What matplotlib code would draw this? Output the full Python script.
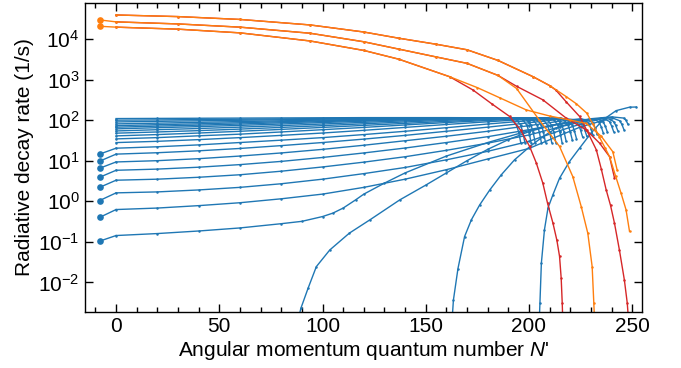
import matplotlib
matplotlib.use("Agg")
import matplotlib.pyplot as plt
from matplotlib.ticker import MultipleLocator, NullLocator, FixedLocator, LogFormatterMathtext

plt.rcParams['font.family'] = ['Liberation Sans', 'DejaVu Sans']
plt.rcParams['mathtext.fontset'] = 'custom'
plt.rcParams['mathtext.rm'] = 'Liberation Sans'
plt.rcParams['mathtext.it'] = 'Liberation Sans:italic'
plt.rcParams['mathtext.bf'] = 'Liberation Sans:bold'

BLUE = '#1f77b4'
ORANGE = '#ff7f0e'
RED = '#d62728'

G = [0, 20, 40, 60, 80, 100, 120, 140, 160, 180]

# ground-state vibrational ladders (rate in 1/s versus N')
blue_N = [
    G + [188, 192, 194, 195, 196],
    G + [190, 194, 196, 197, 198],
    G + [193, 197, 199, 200, 201],
    G + [195, 199, 201, 202, 203],
    G + [198, 202, 204, 205, 206],
    G + [200, 204, 206, 207, 208],
    G + [200, 203, 207, 209, 210, 211],
    G + [200, 205, 209, 211, 212, 213],
    G + [200, 208, 212, 214, 215, 216],
    G + [200, 210, 214, 216, 217, 218],
    G + [200, 213, 217, 219, 220, 221],
    G + [200, 215, 219, 221, 222, 223],
    G + [200, 215, 222, 224, 225, 226],
    G + [200, 215, 224, 226, 227, 228],
    G + [200, 215, 225, 227, 229, 230, 231],
    G + [200, 215, 225, 229, 231, 232, 233],
    G + [200, 215, 225, 232, 234, 235, 236],
    G + [200, 215, 225, 234, 236, 237, 238],
    G + [200, 215, 225, 235, 237, 239, 240, 241],
    [0, 20, 40, 60, 80, 90, 100, 105, 110, 116, 120, 130, 140, 160, 180,
     200, 215, 225, 235, 239, 241, 242, 243],
    [88.5, 89.5, 93, 97, 103.5, 113, 123, 137.4, 150, 160, 170, 180, 190,
     200, 210, 220, 230, 240, 244, 245, 246],
    [162.8, 163.4, 165.6, 168.8, 172.1, 176.1, 181, 186.6, 193, 200.3,
     206.7, 213.2, 219.6, 230, 240, 246, 247, 248],
    [205, 205.3, 206, 207.5, 209.2, 211.6, 214.8, 219.6, 224.5, 230.1,
     235.7, 242.2, 248.7, 252],
]
blue_rate = [
    [109, 110, 111, 112, 113, 114, 115, 115, 115, 114, 113, 101, 73, 51, 28],
    [99.5, 101, 103, 105, 107, 109, 111, 113, 114, 114, 114, 102, 74, 51, 28],
    [90, 93, 96, 99, 102, 105, 108, 111, 113, 114, 114, 102, 74, 51, 28],
    [80.6, 84, 88, 92, 96, 100, 104, 108, 111, 113, 114, 102, 74, 51, 28],
    [73, 77, 81, 86, 91, 96, 101, 106, 110, 113, 114, 102, 74, 51, 28],
    [66.8, 71, 75, 80, 86, 92, 98, 104, 109, 112, 114, 102, 74, 51, 28],
    [60.7, 65, 69, 74, 80, 87, 94, 101, 107, 111, 114, 114, 102, 74, 51, 28],
    [54, 58, 62, 67, 73, 80, 88, 96, 104, 110, 114, 114, 102, 74, 51, 28],
    [47.6, 51, 55, 60, 66, 73, 81, 90, 99, 107, 113, 114, 102, 74, 51, 28],
    [40.8, 44, 48, 53, 59, 66, 74, 83, 93, 103, 111, 114, 102, 74, 51, 30],
    [34.4, 37, 41, 45, 51, 58, 66, 76, 87, 98, 109, 114, 102, 74, 51, 32],
    [27.9, 30, 33, 37, 42, 48, 56, 66, 78, 91, 105, 113, 102, 76, 54, 35],
    [20.3, 22, 24.5, 28, 32, 37, 44, 53, 65, 80, 97, 110, 102, 78, 56, 38],
    [14.5, 15.7, 17.5, 20, 23.5, 28, 34, 42, 53, 67, 86, 105, 102, 80, 58, 40],
    [9.3, 10, 11.2, 13, 15.5, 19, 24, 31, 40, 53, 73, 94, 108, 102, 82, 62, 42],
    [5.8, 6.2, 6.9, 8, 9.6, 12, 15.5, 20.5, 28, 39, 58, 82, 102, 104, 85, 65, 45],
    [3.3, 3.5, 3.9, 4.5, 5.5, 7, 9.2, 12.5, 18, 27, 43, 68, 90, 104, 88, 68, 48],
    [1.61, 1.7, 1.9, 2.2, 2.7, 3.5, 4.8, 6.8, 10.5, 17, 30, 55, 80, 104, 90, 70, 50],
    [0.625, 0.68, 0.78, 0.92, 1.15, 1.5, 2.2, 3.5, 6, 11, 20, 42, 68, 95, 104,
     92, 72, 52],
    [0.143, 0.16, 0.185, 0.22, 0.28, 0.32, 0.42, 0.51, 0.68, 1.08, 1.5, 2.8,
     5, 13, 28, 55, 80, 97, 110, 106, 92, 74, 55],
    [1.4e-3, 2.3e-3, 7.2e-3, 0.0245, 0.063, 0.164, 0.35, 1.08, 2.5, 5, 10,
     19, 33, 52, 72, 90, 105, 115, 96, 78, 58],
    [1.3e-3, 3.7e-3, 0.022, 0.135, 0.35, 0.81, 1.9, 4.5, 10.5, 22, 39, 63,
     83, 108, 120, 112, 98, 78],
    [1.2e-3, 3.1e-3, 0.030, 0.2, 0.68, 1.45, 3.7, 9.5, 20.4, 48, 100, 171,
     208, 210],
]
# N' = 0 reference rates drawn at the offset position, joined to ladders 13..20
ref_N = -8
blue_ref_rate = [14.5, 9.7, 6.5, 3.9, 2.2, 1.04, 0.40, 0.104]
blue_ref_target = [12, 13, 14, 15, 16, 17, 18, 19]

# excited-state ladders
orange_N = [
    [0, 30, 60, 94, 120, 137, 155, 170, 185, 202, 210, 218, 223, 228, 231,
     234, 237, 239, 242, 244.6, 247, 248.7],
    [0, 30, 60, 94, 120, 137, 155, 170, 185, 194, 205, 214.8, 221.2, 225.3,
     228.5, 230.6, 231.4, 231.8],
    [0, 30, 60, 94, 120, 137, 161.6, 175, 185.8, 198.7, 210, 220, 227.7,
     235, 240.6, 242.7],
]
orange_rate = [
    [3.89e4, 3.55e4, 3.02e4, 2.21e4, 1.48e4, 1.04e4, 7.4e3, 5.4e3, 2.95e3,
     1.17e3, 708, 380, 251, 148, 79, 39, 20, 12.6, 4.1, 1.58, 0.62, 0.18],
    [2.63e4, 2.34e4, 1.95e4, 1.38e4, 8.5e3, 5.6e3, 3.6e3, 2.5e3, 1.26e3, 600,
     100, 22.4, 4.07, 0.74, 0.162, 0.0245, 3.1e-3, 1.0e-3],
    [1.95e4, 1.74e4, 1.41e4, 8.9e3, 5.2e3, 3.16e3, 1.17e3, 630, 355, 178,
     126, 100, 83, 40, 16.6, 5.9],
]
orange_ref_rate = [2.94e4, 2.05e4]
orange_ref_target = [1, 2]

red_N = [
    [0, 30, 60, 94, 120, 137, 155, 170, 185, 202, 210, 213, 218, 224.5, 228,
     232.6, 235, 237.4, 239.5, 241.4, 243.8, 246.2, 247.6, 248.2],
    [0, 30, 60, 94, 120, 137, 155, 170, 185, 194, 206.7, 218, 227.7, 234.2,
     239, 241.4],
    [0, 30, 60, 94, 120, 137, 161.6, 172.9, 182, 190.6, 196, 200.3, 203.5,
     206.7, 209, 211.6, 213.5, 214.8, 215.6, 216.1, 216.4],
]
red_rate = [
    [3.89e4, 3.55e4, 3.02e4, 2.21e4, 1.48e4, 1.04e4, 7.4e3, 5.4e3, 2.95e3,
     1.17e3, 708, 550, 282, 123, 56, 18.6, 6.3, 1.9, 0.79, 0.29, 0.063,
     0.0115, 3.1e-3, 1.2e-3],
    [2.63e4, 2.34e4, 1.95e4, 1.38e4, 8.5e3, 5.6e3, 3.6e3, 2.5e3, 1.26e3, 680,
     316, 112, 57.5, 27, 12.6, 3.8],
    [1.95e4, 1.74e4, 1.41e4, 8.9e3, 5.2e3, 3.16e3, 1.17e3, 550, 251, 123, 56,
     22.4, 8.9, 2.8, 0.89, 0.29, 0.11, 0.044, 0.0126, 3.1e-3, 1.0e-3],
]

x_ticks = [0, 50, 100, 150, 200, 250]
y_ticks = [1e-2, 1e-1, 1e0, 1e1, 1e2, 1e3, 1e4]

fig = plt.figure(figsize=(6.81, 3.68), dpi=100)
ax = fig.add_axes([0.125, 0.153, 0.817, 0.839])

line_kw = dict(lw=1.0, marker='o', ms=1.8, mew=0)

for n, r in zip(blue_N, blue_rate):
    ax.plot(n, r, color=BLUE, **line_kw)
for n, r in zip(red_N, red_rate):
    ax.plot(n, r, color=RED, **line_kw)
for n, r in zip(orange_N, orange_rate):
    ax.plot(n, r, color=ORANGE, **line_kw)

for val, k in zip(blue_ref_rate, blue_ref_target):
    ax.plot([ref_N, blue_N[k][0]], [val, blue_rate[k][0]], color=BLUE, lw=1.0)
    ax.plot([ref_N], [val], 'o', color=BLUE, ms=4.8, mew=0)
for val, k in zip(orange_ref_rate, orange_ref_target):
    ax.plot([ref_N, orange_N[k][0]], [val, orange_rate[k][0]], color=ORANGE, lw=1.0)
    ax.plot([ref_N], [val], 'o', color=ORANGE, ms=4.8, mew=0)

ax.set_yscale('log')
ax.set_xlim(-15, 254.5)
ax.set_ylim(1.9e-3, 7.7e4)
ax.xaxis.set_major_locator(FixedLocator(x_ticks))
ax.xaxis.set_minor_locator(MultipleLocator(10))
ax.yaxis.set_major_locator(FixedLocator(y_ticks))
ax.yaxis.set_major_formatter(LogFormatterMathtext())
ax.yaxis.set_minor_locator(NullLocator())
ax.tick_params(which='both', direction='in', top=True, right=True,
               labelsize=15, width=1.0)
ax.tick_params(which='major', length=6, pad=4)
ax.tick_params(which='minor', length=3.5)
for s in ax.spines.values():
    s.set_linewidth(1.0)

ax.set_xlabel("Angular momentum quantum number $\\mathit{N}$'", fontsize=15, labelpad=2)
ax.set_ylabel("Radiative decay rate (1/s)", fontsize=15, labelpad=3)

fig.savefig('out.png', dpi=100)
